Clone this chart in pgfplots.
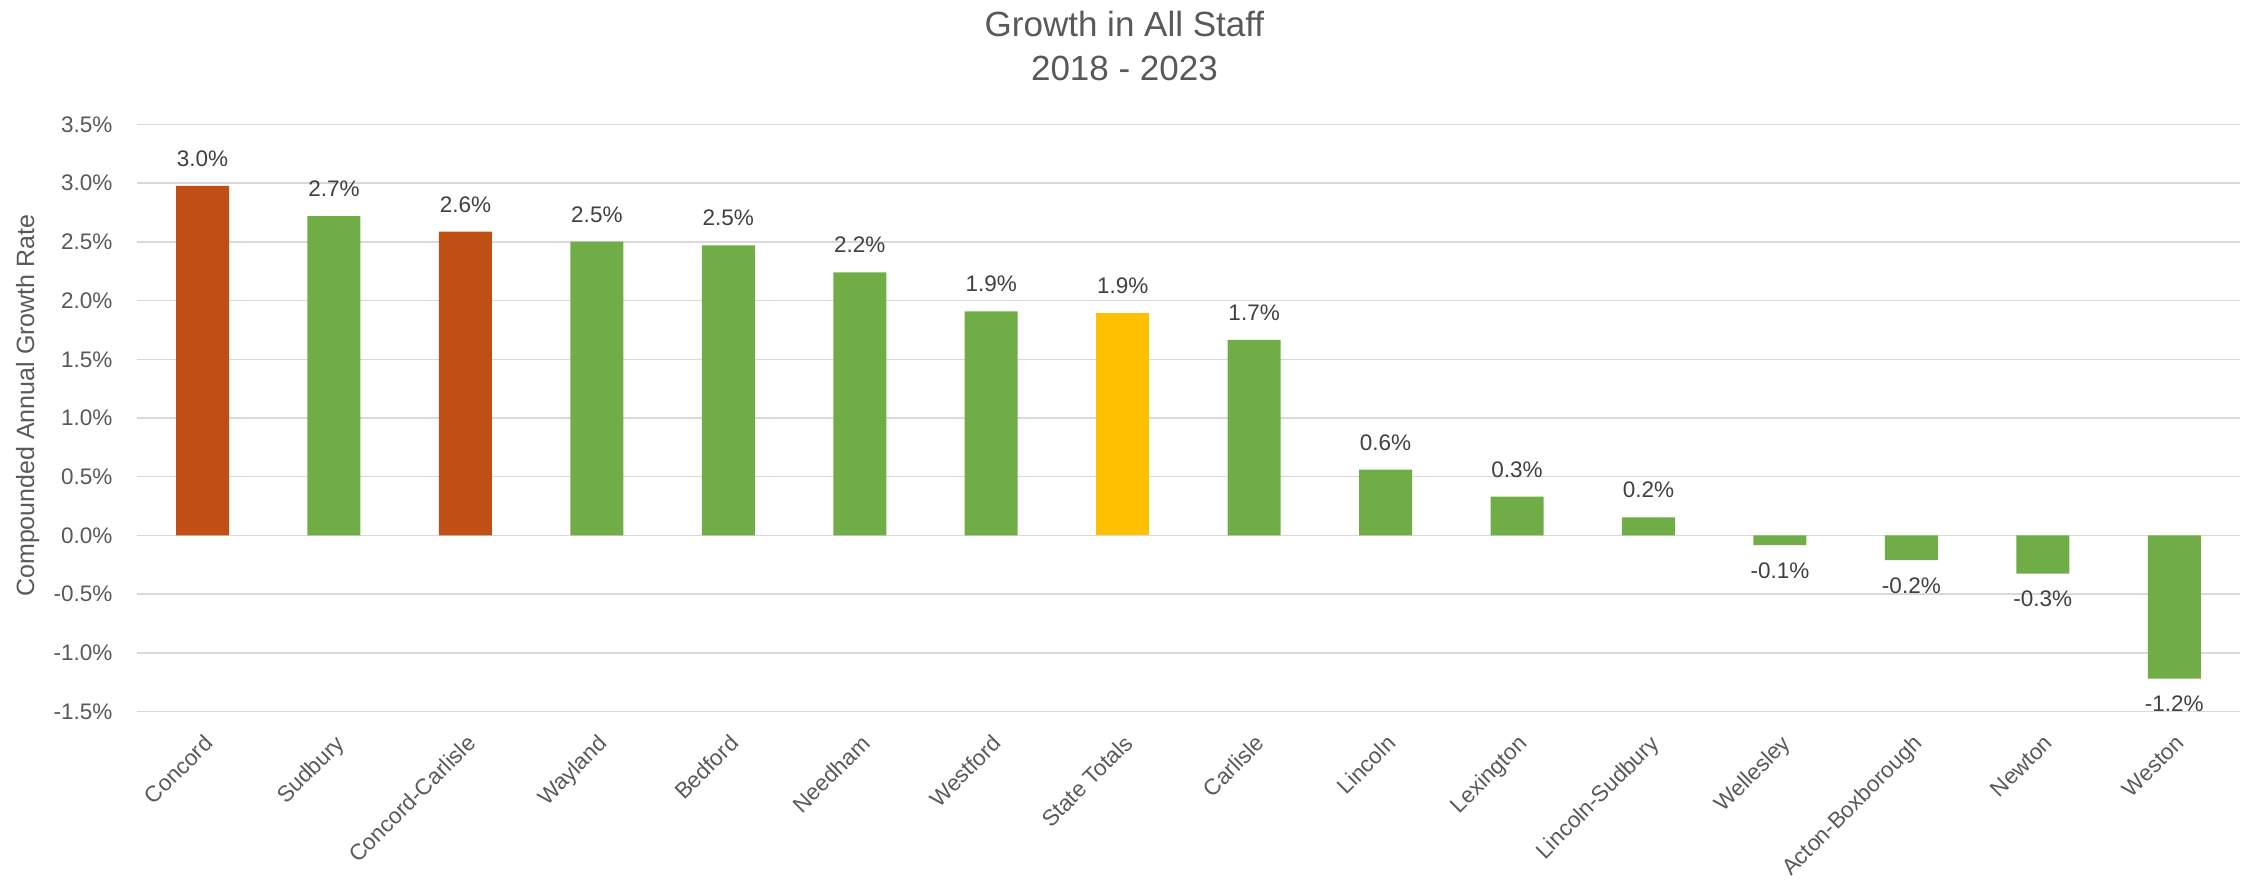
\documentclass[border=0pt]{standalone}
\usepackage{fontspec}
\setmainfont{Liberation Sans}
\usepackage{pgfplots}
\pgfplotsset{compat=1.18}

\definecolor{grn}{HTML}{70AD47}
\definecolor{orn}{HTML}{C04F15}
\definecolor{ylw}{HTML}{FFC000}
\definecolor{gridgray}{HTML}{D9D9D9}
\definecolor{txt}{HTML}{595959}
\definecolor{lbl}{HTML}{404040}

\begin{document}
\begin{tikzpicture}
\begin{axis}[
    scale only axis,
    width=1051.6pt, height=293.5pt,
    xmin=-0.5, xmax=15.5,
    ymin=-1.5, ymax=3.5,
    ybar, bar width=26.5pt, bar shift=0pt,
    clip=false,
    axis line style={draw=none},
    major tick length=0pt,
    ymajorgrids,
    grid style={draw=gridgray, line width=0.75pt},
    /pgf/number format/assume math mode=true,
    ytick={-1.5,-1,...,3.5},
    yticklabel={\pgfmathprintnumber[fixed,fixed zerofill,precision=1]{\tick}\%},
    yticklabel style={anchor=east, inner sep=0pt, xshift=-12pt, text=txt,
        font=\fontsize{11.25}{13}\selectfont},
    xtick={0,...,15},
    xticklabels={Concord, Sudbury, Concord-Carlisle, Wayland, Bedford, Needham,
        Westford, State Totals, Carlisle, Lincoln, Lexington, Lincoln-Sudbury,
        Wellesley, Acton-Boxborough, Newton, Weston},
    xticklabel style={yshift=-10.75pt, rotate=45, anchor=north east, inner sep=0pt,
        text=txt, font=\fontsize{11.25}{13}\selectfont},
    nodes near coords={\pgfmathprintnumber[fixed,fixed zerofill,precision=1]{\pgfplotspointmeta}\%},
    nodes near coords style={text=lbl, font=\fontsize{11.25}{13}\selectfont, inner sep=9.5pt},
]

% Concord and Concord-Carlisle
\addplot[fill=orn, draw=none] coordinates {(0,2.977) (2,2.587)};

% other districts, positive growth
\addplot[fill=grn, draw=none] coordinates {
    (1,2.72) (3,2.502) (4,2.47) (5,2.24) (6,1.909)
    (8,1.665) (9,0.56) (10,0.33) (11,0.153)
};

% state totals
\addplot[fill=ylw, draw=none] coordinates {(7,1.897)};

% negative growth, labels below the bar
\addplot[fill=grn, draw=none,
    nodes near coords style={anchor=north, inner sep=8.5pt}] coordinates {
    (12,-0.082) (13,-0.21) (14,-0.325) (15,-1.22)
};

\coordinate (pll) at (rel axis cs:0,0);
\coordinate (pur) at (rel axis cs:1,1);

\node[rotate=90, text=txt, font=\fontsize{12.5}{15}\selectfont]
    at ([xshift=-54.6pt]rel axis cs:0,0.521) {Compounded Annual Growth Rate};
\node[anchor=base, text=txt, font=\fontsize{17.5}{21}\selectfont]
    at ([yshift=44.25pt]rel axis cs:0.4696,1) {Growth in All Staff};
\node[anchor=base, text=txt, font=\fontsize{17.5}{21}\selectfont]
    at ([yshift=22.25pt]rel axis cs:0.4696,1) {2018 - 2023};
\end{axis}
\pgfresetboundingbox
\path ([shift={(-68.4pt,-88.25pt)}]pll) rectangle ([shift={(4.5pt,62.25pt)}]pur);
\end{tikzpicture}
\end{document}
